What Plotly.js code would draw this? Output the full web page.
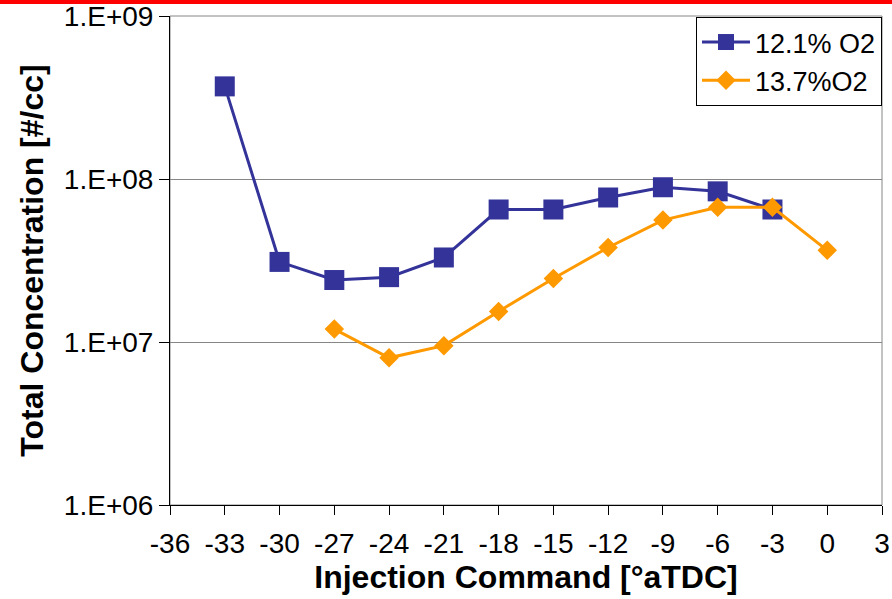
<!DOCTYPE html>
<html>
<head>
<meta charset="utf-8">
<script src="https://cdn.plot.ly/plotly-3.0.1.min.js"></script>
<style>
  html, body { margin: 0; padding: 0; background: #fff; }
  #chart { width: 892px; height: 599px; position: relative; }
  #topbar { position: absolute; left: 0; top: 0; width: 892px; height: 4px; background: #ff0000; z-index: 5; }
</style>
</head>
<body>
<div id="topbar"></div>
<div id="chart"></div>
<script>
// Injection timing (°aTDC) and total particle concentration (#/cc)
const injection121 = [-33, -30, -27, -24, -21, -18, -15, -12, -9, -6, -3];
const conc121 = [3.7e8, 3.1e7, 2.4e7, 2.5e7, 3.3e7, 6.5e7, 6.5e7, 7.7e7, 8.9e7, 8.4e7, 6.5e7];

const injection137 = [-27, -24, -21, -18, -15, -12, -9, -6, -3, 0];
const conc137 = [1.2e7, 8.0e6, 9.5e6, 1.54e7, 2.45e7, 3.8e7, 5.6e7, 6.7e7, 6.7e7, 3.65e7];

const seriesNames = ['12.1% O2', '13.7%O2'];

const xTickVals = [-36, -33, -30, -27, -24, -21, -18, -15, -12, -9, -6, -3, 0, 3];
const xTickText = ['-36', '-33', '-30', '-27', '-24', '-21', '-18', '-15', '-12', '-9', '-6', '-3', '0', '3'];

const yTickVals = [1e6, 1e7, 1e8, 1e9];
const yTickText = ['1.E+06', '1.E+07', '1.E+08', '1.E+09'];

const FONT = 'Liberation Sans, Arial, sans-serif';

const traces = [
  {
    x: injection121, y: conc121, name: seriesNames[0],
    type: 'scatter', mode: 'lines+markers',
    line: { color: '#333399', width: 3 },
    marker: { symbol: 'square', size: 20, color: '#333399' }
  },
  {
    x: injection137, y: conc137, name: seriesNames[1],
    type: 'scatter', mode: 'lines+markers',
    line: { color: '#FF9900', width: 3 },
    marker: { symbol: 'diamond', size: 15, color: '#FF9900' }
  }
];

const layout = {
  width: 892, height: 599,
  margin: { l: 170, r: 10, t: 16, b: 94 },
  paper_bgcolor: '#fff', plot_bgcolor: '#fff',
  font: { family: FONT, size: 28, color: '#000' },
  showlegend: true,
  legend: {
    x: 1, y: 0.998, xanchor: 'right', yanchor: 'top',
    bgcolor: '#fff', bordercolor: '#000', borderwidth: 1,
    font: { family: FONT, size: 27, color: '#000' },
    itemwidth: 48, tracegroupgap: 0
  },
  xaxis: {
    range: [-36, 3], tickvals: xTickVals, ticktext: xTickText,
    showgrid: false, zeroline: false,
    showline: true, linecolor: '#000', linewidth: 1,
    ticks: 'outside', ticklen: 9, tickcolor: '#000', tickwidth: 1,
    ticklabelstandoff: 4,
    tickfont: { family: FONT, size: 28, color: '#000' },
    title: { text: 'Injection Command [°aTDC]', font: { family: FONT, size: 32, color: '#000', weight: 'bold' }, standoff: 7 }
  },
  yaxis: {
    type: 'log', range: [6, 9],
    tickvals: yTickVals, ticktext: yTickText,
    showgrid: true, gridcolor: '#868686', gridwidth: 1,
    zeroline: false,
    showline: true, linecolor: '#000', linewidth: 1,
    ticks: 'outside', ticklen: 10, tickcolor: '#000', tickwidth: 1,
    tickfont: { family: FONT, size: 28, color: '#000' },
    title: { text: 'Total Concentration [#/cc]', font: { family: FONT, size: 32, color: '#000', weight: 'bold' }, standoff: 10 }
  },
  shapes: [
    // plot-area frame (top and right edges show in gray)
    { type: 'rect', xref: 'paper', yref: 'paper', x0: 0, x1: 1, y0: 0, y1: 1,
      line: { color: '#868686', width: 1 }, layer: 'below' }
  ]
};

Plotly.newPlot('chart', traces, layout, { displayModeBar: false, staticPlot: true });
</script>
</body>
</html>
